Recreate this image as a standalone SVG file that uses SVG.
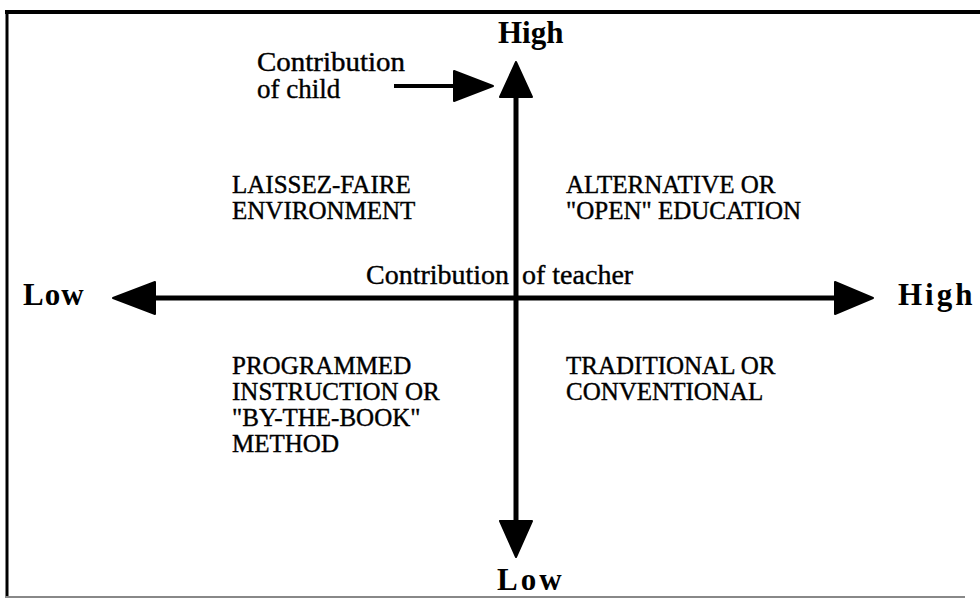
<svg xmlns="http://www.w3.org/2000/svg" width="980" height="606" viewBox="0 0 980 606">
<style>
.t{font-family:"Liberation Serif","Times New Roman",serif;font-size:28px;fill:#000;stroke:#000;stroke-width:0.4}
.c{font-family:"Liberation Serif","Times New Roman",serif;font-size:27px;fill:#000;stroke:#000;stroke-width:0.4}
.q{font-family:"Liberation Serif","Times New Roman",serif;font-size:25px;fill:#000;stroke:#000;stroke-width:0.4}
.b{font-family:"Liberation Serif","Times New Roman",serif;font-size:31px;font-weight:bold;fill:#000}
.ax{stroke:#000;stroke-width:5;fill:none}
.hd{fill:#000;stroke:#000;stroke-width:2;stroke-linejoin:round}
</style>
<rect width="980" height="606" fill="#fff"/>
<g id="frame">
<line x1="5" y1="12" x2="980" y2="12" stroke="#000" stroke-width="4"/>
<line x1="7" y1="12" x2="7" y2="598" stroke="#000" stroke-width="3"/>
<line x1="5" y1="597" x2="965" y2="597" stroke="#888" stroke-width="2"/>
</g>
<g id="connectors">
<line class="ax" x1="150" y1="298" x2="840" y2="298"/>
<polygon class="hd" points="113,298 155,282 155,314"/>
<polygon class="hd" points="873,298 835,282 835,314"/>
<line class="ax" x1="516" y1="92" x2="516" y2="526"/>
<polygon class="hd" points="516,62 500,97 532,97"/>
<polygon class="hd" points="516,557 500,521 532,521"/>
<line stroke="#000" stroke-width="4" x1="394" y1="86" x2="458" y2="86"/>
<polygon class="hd" points="493,86 454,71 454,101"/>
</g>
<g id="axis-labels">
<text class="b" x="498" y="43">High</text>
<text class="b" x="497" y="590" letter-spacing="3">Low</text>
<text class="b" x="23" y="305" letter-spacing="1">Low</text>
<text class="b" x="898" y="305" letter-spacing="3">High</text>
<text class="c" x="257" y="71" textLength="148" lengthAdjust="spacingAndGlyphs">Contribution</text>
<text class="c" x="257" y="98">of child</text>
<text class="t" x="366" y="284">Contribution</text>
<text class="t" x="522" y="284">of teacher</text>
</g>
<g id="laissez-faire">
<text class="q" x="232" y="193">LAISSEZ-FAIRE</text>
<text class="q" x="232" y="219">ENVIRONMENT</text>
</g>
<g id="open-education">
<text class="q" x="566" y="193">ALTERNATIVE OR</text>
<text class="q" x="566" y="219">"OPEN" EDUCATION</text>
</g>
<g id="programmed">
<text class="q" x="232" y="374">PROGRAMMED</text>
<text class="q" x="232" y="400">INSTRUCTION OR</text>
<text class="q" x="232" y="426">"BY-THE-BOOK"</text>
<text class="q" x="232" y="452">METHOD</text>
</g>
<g id="traditional">
<text class="q" x="566" y="374">TRADITIONAL OR</text>
<text class="q" x="566" y="400">CONVENTIONAL</text>
</g>
</svg>
